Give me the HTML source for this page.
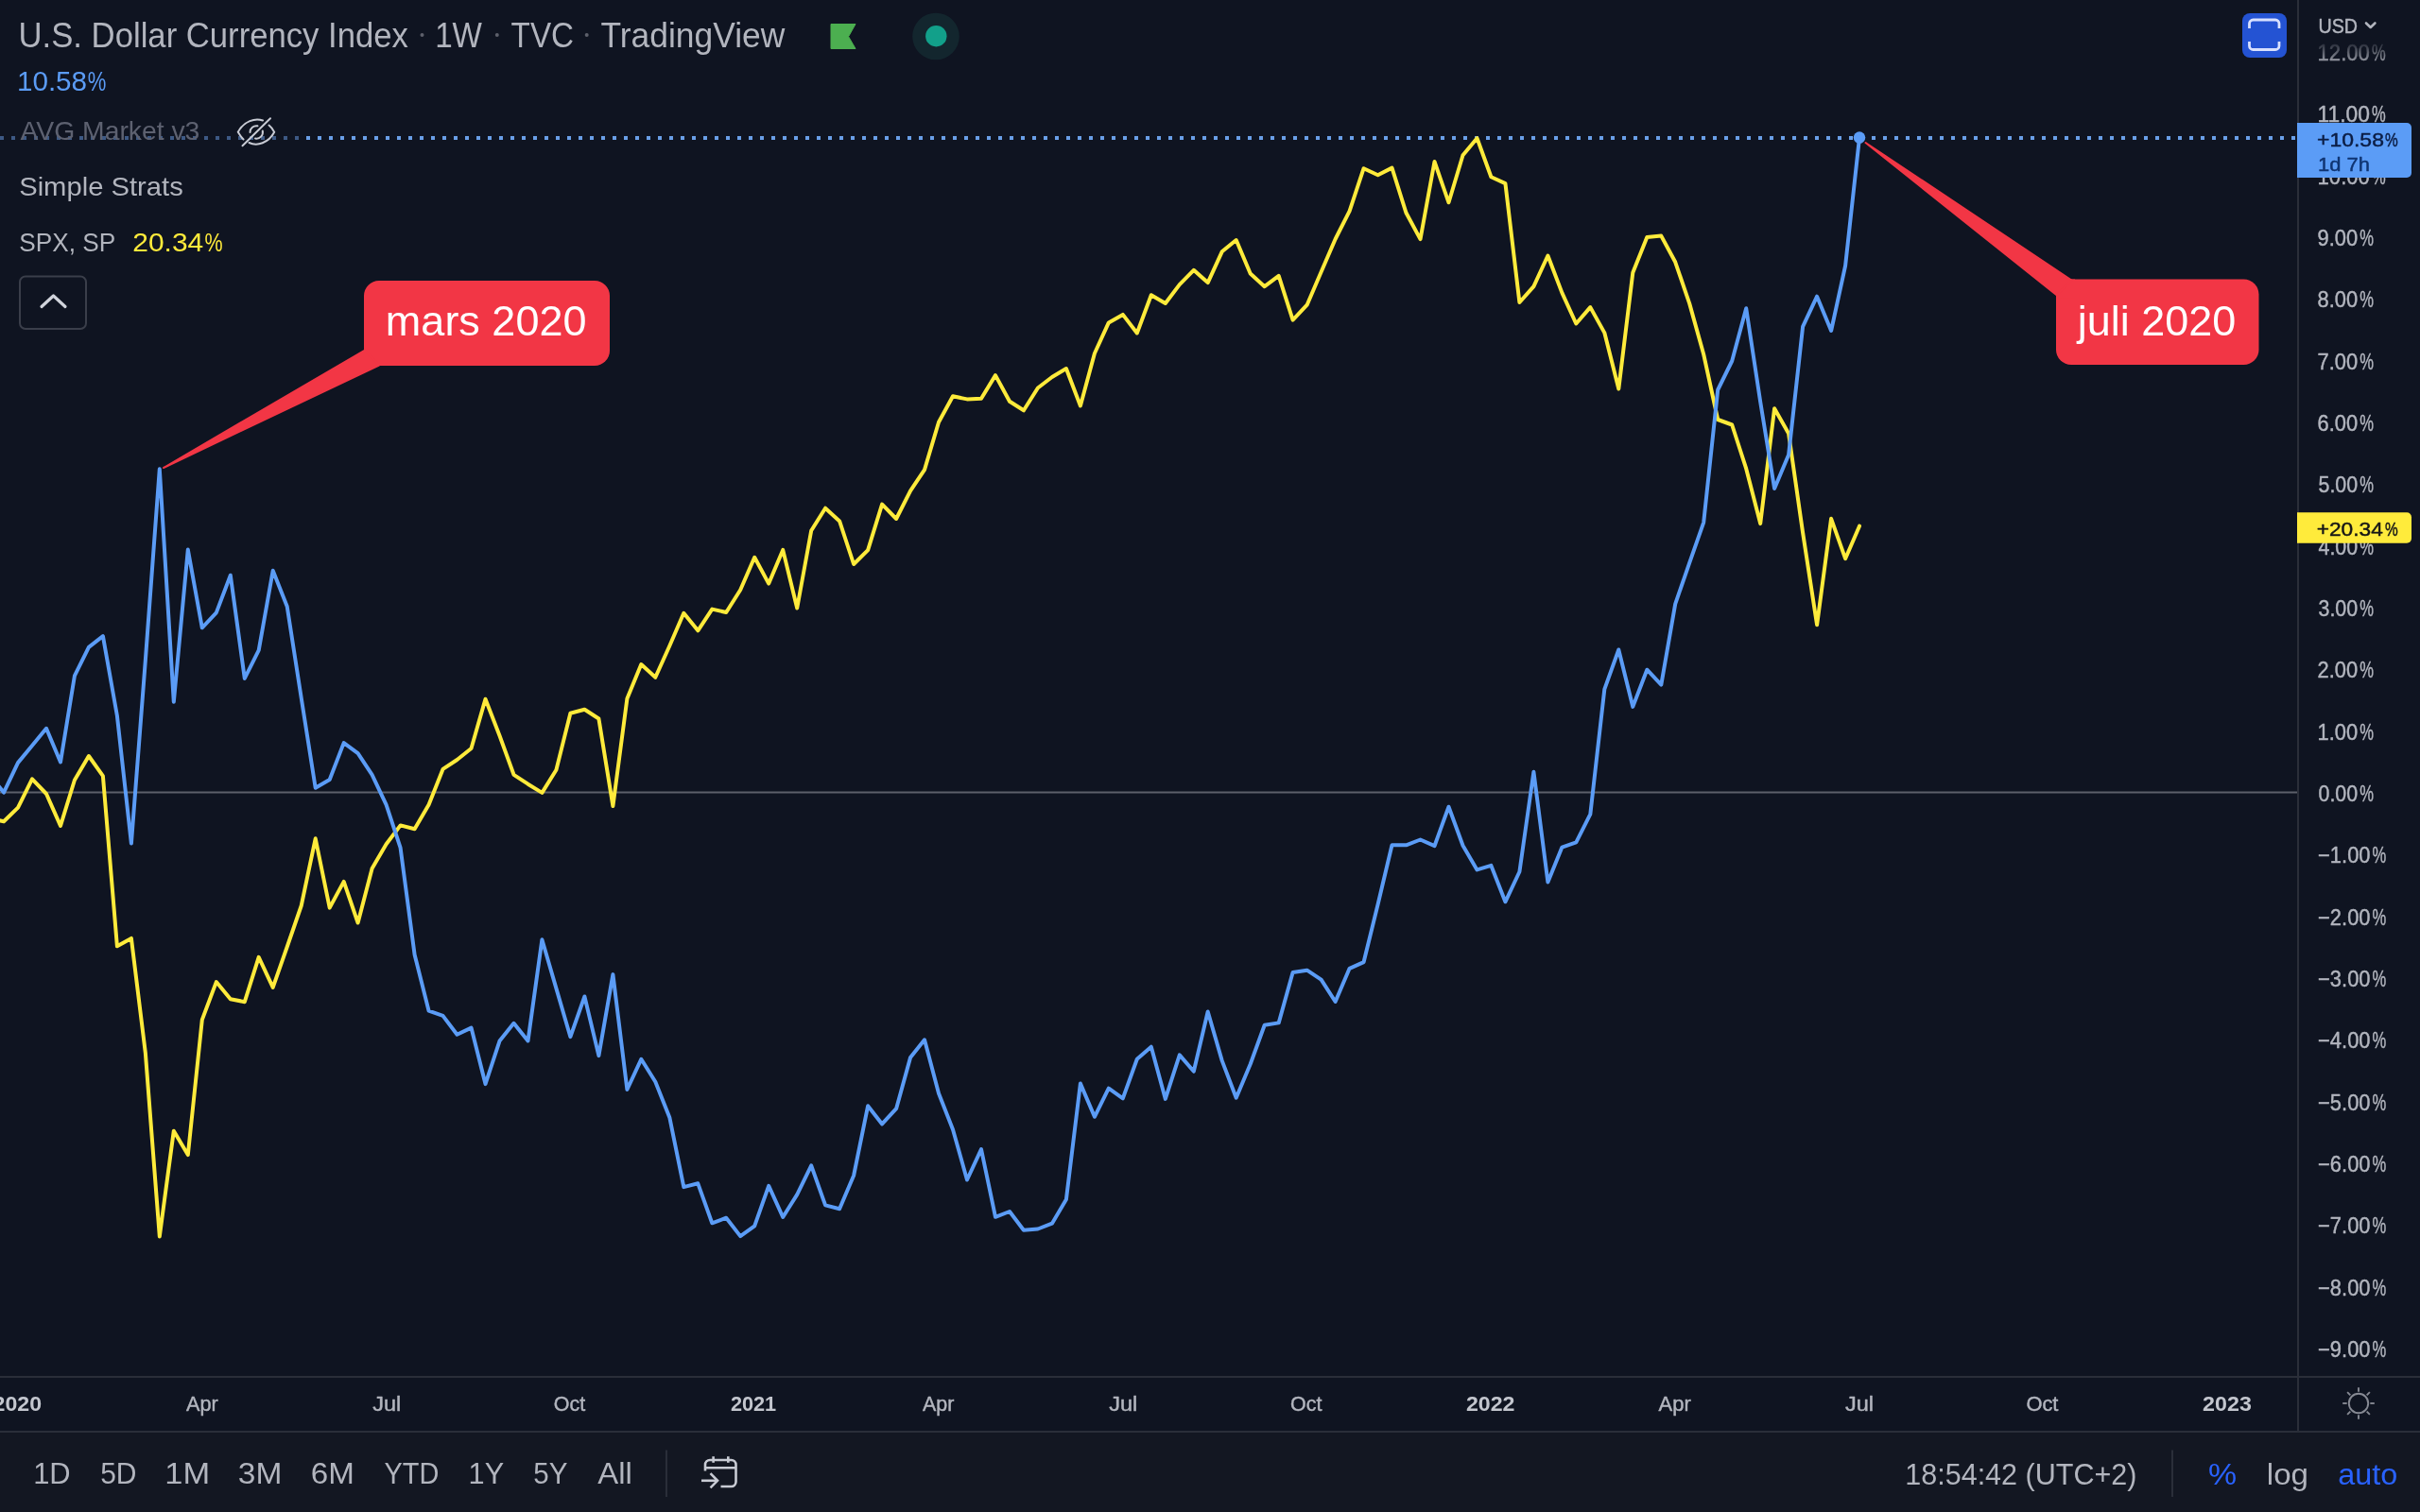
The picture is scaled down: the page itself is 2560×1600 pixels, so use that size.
<!DOCTYPE html>
<html><head><meta charset="utf-8"><title>U.S. Dollar Currency Index</title>
<style>
html,body{margin:0;padding:0;background:#0f1421;width:2560px;height:1600px;overflow:hidden}
svg{display:block;font-family:'Liberation Sans', Arial, sans-serif;will-change:transform}
text{stroke-linejoin:round}
</style></head><body>
<svg width="2560" height="1600" viewBox="0 0 2560 1600">
<rect x="0" y="0" width="2560" height="1600" fill="#0f1421"/>
<rect x="0" y="1515" width="2560" height="85" fill="#131722"/>
<rect x="0" y="1456" width="2560" height="2" fill="#2a2e39"/>
<rect x="0" y="1514" width="2560" height="2" fill="#2a2e39"/>
<rect x="2430" y="0" width="2" height="1515" fill="#2a2e39"/>
<rect x="0" y="837.5" width="2430" height="2" fill="#5d606b"/>
<line x1="0" y1="146" x2="2430" y2="146" stroke="#6a9fe8" stroke-width="4" stroke-dasharray="4 8"/>
<rect x="0" y="118" width="320" height="52" fill="#0f1421" opacity="0.5"/>
<text x="19.57" y="49.8" font-size="36" fill="#b2b5be" font-weight="normal" textLength="412.33" lengthAdjust="spacingAndGlyphs">U.S. Dollar Currency Index</text>
<text x="460.15" y="49.8" font-size="36" fill="#b2b5be" font-weight="normal" textLength="49.83" lengthAdjust="spacingAndGlyphs">1W</text>
<text x="540.60" y="49.8" font-size="36" fill="#b2b5be" font-weight="normal" textLength="66.42" lengthAdjust="spacingAndGlyphs">TVC</text>
<text x="635.50" y="49.8" font-size="36" fill="#b2b5be" font-weight="normal" textLength="194.81" lengthAdjust="spacingAndGlyphs">TradingView</text>
<text y="95.9" font-size="29" fill="#5b9cf6" font-weight="normal"><tspan x="17.96" textLength="74.11" lengthAdjust="spacingAndGlyphs">10.58</tspan><tspan x="92.77" textLength="19.63" lengthAdjust="spacingAndGlyphs">%</tspan></text>
<text x="21.50" y="148.4" font-size="28" fill="#5d6170" font-weight="normal" textLength="189.88" lengthAdjust="spacingAndGlyphs">AVG Market v3</text>
<text x="20.16" y="206.7" font-size="28" fill="#b2b5be" font-weight="normal" textLength="173.59" lengthAdjust="spacingAndGlyphs">Simple Strats</text>
<text x="20.26" y="266" font-size="28" fill="#b2b5be" font-weight="normal" textLength="101.87" lengthAdjust="spacingAndGlyphs">SPX, SP</text>
<text y="266" font-size="28" fill="#ffeb3b" font-weight="normal"><tspan x="140.33" textLength="74.92" lengthAdjust="spacingAndGlyphs">20.34</tspan><tspan x="216.39" textLength="19.09" lengthAdjust="spacingAndGlyphs">%</tspan></text>
<text y="63.9" font-size="23.5" fill="#b2b5be" font-weight="normal" stroke="#b2b5be" stroke-width="0.45" opacity="0.8"><tspan x="2451.56" textLength="55.39" lengthAdjust="spacingAndGlyphs">12.00</tspan><tspan x="2509.00" textLength="14.73" lengthAdjust="spacingAndGlyphs">%</tspan></text>
<text y="129.3" font-size="23.5" fill="#b2b5be" font-weight="normal" stroke="#b2b5be" stroke-width="0.45"><tspan x="2451.53" textLength="55.42" lengthAdjust="spacingAndGlyphs">11.00</tspan><tspan x="2509.00" textLength="14.73" lengthAdjust="spacingAndGlyphs">%</tspan></text>
<text y="259.9" font-size="23.5" fill="#b2b5be" font-weight="normal" stroke="#b2b5be" stroke-width="0.45"><tspan x="2451.57" textLength="42.58" lengthAdjust="spacingAndGlyphs">9.00</tspan><tspan x="2496.20" textLength="14.73" lengthAdjust="spacingAndGlyphs">%</tspan></text>
<text y="325.3" font-size="23.5" fill="#b2b5be" font-weight="normal" stroke="#b2b5be" stroke-width="0.45"><tspan x="2451.57" textLength="42.58" lengthAdjust="spacingAndGlyphs">8.00</tspan><tspan x="2496.20" textLength="14.73" lengthAdjust="spacingAndGlyphs">%</tspan></text>
<text y="390.6" font-size="23.5" fill="#b2b5be" font-weight="normal" stroke="#b2b5be" stroke-width="0.45"><tspan x="2451.57" textLength="42.58" lengthAdjust="spacingAndGlyphs">7.00</tspan><tspan x="2496.20" textLength="14.73" lengthAdjust="spacingAndGlyphs">%</tspan></text>
<text y="455.9" font-size="23.5" fill="#b2b5be" font-weight="normal" stroke="#b2b5be" stroke-width="0.45"><tspan x="2451.57" textLength="42.58" lengthAdjust="spacingAndGlyphs">6.00</tspan><tspan x="2496.20" textLength="14.73" lengthAdjust="spacingAndGlyphs">%</tspan></text>
<text y="521.2" font-size="23.5" fill="#b2b5be" font-weight="normal" stroke="#b2b5be" stroke-width="0.45"><tspan x="2452.50" textLength="41.64" lengthAdjust="spacingAndGlyphs">5.00</tspan><tspan x="2496.20" textLength="14.73" lengthAdjust="spacingAndGlyphs">%</tspan></text>
<text y="586.6" font-size="23.5" fill="#b2b5be" font-weight="normal" stroke="#b2b5be" stroke-width="0.45"><tspan x="2452.50" textLength="41.64" lengthAdjust="spacingAndGlyphs">4.00</tspan><tspan x="2496.20" textLength="14.73" lengthAdjust="spacingAndGlyphs">%</tspan></text>
<text y="651.9" font-size="23.5" fill="#b2b5be" font-weight="normal" stroke="#b2b5be" stroke-width="0.45"><tspan x="2452.50" textLength="41.64" lengthAdjust="spacingAndGlyphs">3.00</tspan><tspan x="2496.20" textLength="14.73" lengthAdjust="spacingAndGlyphs">%</tspan></text>
<text y="717.2" font-size="23.5" fill="#b2b5be" font-weight="normal" stroke="#b2b5be" stroke-width="0.45"><tspan x="2451.57" textLength="42.58" lengthAdjust="spacingAndGlyphs">2.00</tspan><tspan x="2496.20" textLength="14.73" lengthAdjust="spacingAndGlyphs">%</tspan></text>
<text y="782.6" font-size="23.5" fill="#b2b5be" font-weight="normal" stroke="#b2b5be" stroke-width="0.45"><tspan x="2451.57" textLength="42.58" lengthAdjust="spacingAndGlyphs">1.00</tspan><tspan x="2496.20" textLength="14.73" lengthAdjust="spacingAndGlyphs">%</tspan></text>
<text y="847.9" font-size="23.5" fill="#b2b5be" font-weight="normal" stroke="#b2b5be" stroke-width="0.45"><tspan x="2452.50" textLength="41.64" lengthAdjust="spacingAndGlyphs">0.00</tspan><tspan x="2496.20" textLength="14.73" lengthAdjust="spacingAndGlyphs">%</tspan></text>
<text y="913.2" font-size="23.5" fill="#b2b5be" font-weight="normal" stroke="#b2b5be" stroke-width="0.45"><tspan x="2452.07" textLength="55.48" lengthAdjust="spacingAndGlyphs">−1.00</tspan><tspan x="2509.60" textLength="14.73" lengthAdjust="spacingAndGlyphs">%</tspan></text>
<text y="978.6" font-size="23.5" fill="#b2b5be" font-weight="normal" stroke="#b2b5be" stroke-width="0.45"><tspan x="2452.07" textLength="55.48" lengthAdjust="spacingAndGlyphs">−2.00</tspan><tspan x="2509.60" textLength="14.73" lengthAdjust="spacingAndGlyphs">%</tspan></text>
<text y="1043.9" font-size="23.5" fill="#b2b5be" font-weight="normal" stroke="#b2b5be" stroke-width="0.45"><tspan x="2452.07" textLength="55.48" lengthAdjust="spacingAndGlyphs">−3.00</tspan><tspan x="2509.60" textLength="14.73" lengthAdjust="spacingAndGlyphs">%</tspan></text>
<text y="1109.2" font-size="23.5" fill="#b2b5be" font-weight="normal" stroke="#b2b5be" stroke-width="0.45"><tspan x="2452.07" textLength="55.48" lengthAdjust="spacingAndGlyphs">−4.00</tspan><tspan x="2509.60" textLength="14.73" lengthAdjust="spacingAndGlyphs">%</tspan></text>
<text y="1174.6" font-size="23.5" fill="#b2b5be" font-weight="normal" stroke="#b2b5be" stroke-width="0.45"><tspan x="2452.07" textLength="55.48" lengthAdjust="spacingAndGlyphs">−5.00</tspan><tspan x="2509.60" textLength="14.73" lengthAdjust="spacingAndGlyphs">%</tspan></text>
<text y="1239.9" font-size="23.5" fill="#b2b5be" font-weight="normal" stroke="#b2b5be" stroke-width="0.45"><tspan x="2452.07" textLength="55.48" lengthAdjust="spacingAndGlyphs">−6.00</tspan><tspan x="2509.60" textLength="14.73" lengthAdjust="spacingAndGlyphs">%</tspan></text>
<text y="1305.2" font-size="23.5" fill="#b2b5be" font-weight="normal" stroke="#b2b5be" stroke-width="0.45"><tspan x="2452.07" textLength="55.48" lengthAdjust="spacingAndGlyphs">−7.00</tspan><tspan x="2509.60" textLength="14.73" lengthAdjust="spacingAndGlyphs">%</tspan></text>
<text y="1370.5" font-size="23.5" fill="#b2b5be" font-weight="normal" stroke="#b2b5be" stroke-width="0.45"><tspan x="2452.07" textLength="55.48" lengthAdjust="spacingAndGlyphs">−8.00</tspan><tspan x="2509.60" textLength="14.73" lengthAdjust="spacingAndGlyphs">%</tspan></text>
<text y="1435.9" font-size="23.5" fill="#b2b5be" font-weight="normal" stroke="#b2b5be" stroke-width="0.45"><tspan x="2452.07" textLength="55.48" lengthAdjust="spacingAndGlyphs">−9.00</tspan><tspan x="2509.60" textLength="14.73" lengthAdjust="spacingAndGlyphs">%</tspan></text>
<text y="194.6" font-size="23.5" fill="#b2b5be" font-weight="normal" stroke="#b2b5be" stroke-width="0.45"><tspan x="2451.56" textLength="55.39" lengthAdjust="spacingAndGlyphs">10.00</tspan><tspan x="2509.00" textLength="14.73" lengthAdjust="spacingAndGlyphs">%</tspan></text>
<text x="2452.49" y="34.7" font-size="21.5" fill="#b2b5be" font-weight="normal" stroke="#b2b5be" stroke-width="0.45" textLength="41.50" lengthAdjust="spacingAndGlyphs">USD</text>
<text x="-7.50" y="1493.1" font-size="22.5" fill="#c3c6ce" font-weight="bold" textLength="51.53" lengthAdjust="spacingAndGlyphs">2020</text>
<text x="197.10" y="1493.1" font-size="22.5" fill="#b2b5be" font-weight="normal" stroke="#b2b5be" stroke-width="0.45" textLength="33.71" lengthAdjust="spacingAndGlyphs">Apr</text>
<text x="394.20" y="1493.1" font-size="22.5" fill="#b2b5be" font-weight="normal" stroke="#b2b5be" stroke-width="0.45" textLength="30.04" lengthAdjust="spacingAndGlyphs">Jul</text>
<text x="585.85" y="1493.1" font-size="22.5" fill="#b2b5be" font-weight="normal" stroke="#b2b5be" stroke-width="0.45" textLength="33.34" lengthAdjust="spacingAndGlyphs">Oct</text>
<text x="772.90" y="1493.1" font-size="22.5" fill="#c3c6ce" font-weight="bold" textLength="48.30" lengthAdjust="spacingAndGlyphs">2021</text>
<text x="976.00" y="1493.1" font-size="22.5" fill="#b2b5be" font-weight="normal" stroke="#b2b5be" stroke-width="0.45" textLength="33.32" lengthAdjust="spacingAndGlyphs">Apr</text>
<text x="1173.30" y="1493.1" font-size="22.5" fill="#b2b5be" font-weight="normal" stroke="#b2b5be" stroke-width="0.45" textLength="30.04" lengthAdjust="spacingAndGlyphs">Jul</text>
<text x="1365.05" y="1493.1" font-size="22.5" fill="#b2b5be" font-weight="normal" stroke="#b2b5be" stroke-width="0.45" textLength="33.34" lengthAdjust="spacingAndGlyphs">Oct</text>
<text x="1550.90" y="1493.1" font-size="22.5" fill="#c3c6ce" font-weight="bold" textLength="51.53" lengthAdjust="spacingAndGlyphs">2022</text>
<text x="1754.50" y="1493.1" font-size="22.5" fill="#b2b5be" font-weight="normal" stroke="#b2b5be" stroke-width="0.45" textLength="34.20" lengthAdjust="spacingAndGlyphs">Apr</text>
<text x="1952.00" y="1493.1" font-size="22.5" fill="#b2b5be" font-weight="normal" stroke="#b2b5be" stroke-width="0.45" textLength="30.04" lengthAdjust="spacingAndGlyphs">Jul</text>
<text x="2143.43" y="1493.1" font-size="22.5" fill="#b2b5be" font-weight="normal" stroke="#b2b5be" stroke-width="0.45" textLength="34.04" lengthAdjust="spacingAndGlyphs">Oct</text>
<text x="2330.10" y="1493.1" font-size="22.5" fill="#c3c6ce" font-weight="bold" textLength="51.73" lengthAdjust="spacingAndGlyphs">2023</text>
<text x="35.21" y="1570.3" font-size="31" fill="#b2b5be" font-weight="normal" textLength="39.47" lengthAdjust="spacingAndGlyphs">1D</text>
<text x="106.13" y="1570.3" font-size="31" fill="#b2b5be" font-weight="normal" textLength="38.41" lengthAdjust="spacingAndGlyphs">5D</text>
<text x="174.38" y="1570.3" font-size="31" fill="#b2b5be" font-weight="normal" textLength="47.85" lengthAdjust="spacingAndGlyphs">1M</text>
<text x="251.82" y="1570.3" font-size="31" fill="#b2b5be" font-weight="normal" textLength="46.55" lengthAdjust="spacingAndGlyphs">3M</text>
<text x="328.83" y="1570.3" font-size="31" fill="#b2b5be" font-weight="normal" textLength="46.12" lengthAdjust="spacingAndGlyphs">6M</text>
<text x="406.50" y="1570.3" font-size="31" fill="#b2b5be" font-weight="normal" textLength="57.79" lengthAdjust="spacingAndGlyphs">YTD</text>
<text x="495.62" y="1570.3" font-size="31" fill="#b2b5be" font-weight="normal" textLength="37.55" lengthAdjust="spacingAndGlyphs">1Y</text>
<text x="564.35" y="1570.3" font-size="31" fill="#b2b5be" font-weight="normal" textLength="36.20" lengthAdjust="spacingAndGlyphs">5Y</text>
<text x="632.20" y="1570.3" font-size="31" fill="#b2b5be" font-weight="normal" textLength="36.61" lengthAdjust="spacingAndGlyphs">All</text>
<text x="2015.23" y="1570.6" font-size="31" fill="#b2b5be" font-weight="normal" textLength="245.27" lengthAdjust="spacingAndGlyphs">18:54:42 (UTC+2)</text>
<text x="2335.91" y="1570.6" font-size="31" fill="#2962ff" font-weight="normal" textLength="30.11" lengthAdjust="spacingAndGlyphs">%</text>
<text x="2397.87" y="1570.6" font-size="31" fill="#b2b5be" font-weight="normal" textLength="44.16" lengthAdjust="spacingAndGlyphs">log</text>
<text x="2473.16" y="1570.6" font-size="31" fill="#2962ff" font-weight="normal" textLength="63.04" lengthAdjust="spacingAndGlyphs">auto</text>
<defs><linearGradient id="fd" x1="0" y1="0" x2="0" y2="1"><stop offset="0" stop-color="#0f1421" stop-opacity="1"/><stop offset="1" stop-color="#0f1421" stop-opacity="0"/></linearGradient></defs>
<rect x="2432" y="42" width="128" height="22" fill="url(#fd)"/>
<polyline points="-11.0,866.0 4.0,869.2 19.0,854.6 34.0,824.4 49.0,840.0 64.0,873.9 78.9,825.5 93.9,800.0 108.9,821.1 123.9,1001.3 138.9,992.9 153.9,1114.8 168.8,1308.4 183.8,1196.7 198.8,1222.1 213.8,1079.1 228.8,1039.1 243.8,1057.3 258.8,1060.2 273.7,1012.9 288.7,1044.9 303.7,1002.0 318.7,958.5 333.7,887.3 348.7,960.6 363.7,932.9 378.6,976.5 393.6,919.0 408.6,893.2 423.6,873.4 438.6,877.3 453.6,851.6 468.5,813.9 483.5,804.0 498.5,792.0 513.5,739.7 528.5,778.5 543.5,819.8 558.5,829.7 573.4,838.9 588.4,814.7 603.4,754.8 618.4,750.8 633.4,760.5 648.4,853.1 663.4,739.3 678.3,703.1 693.3,716.8 708.3,683.5 723.3,648.8 738.3,667.3 753.3,644.6 768.2,648.0 783.2,624.2 798.2,589.8 813.2,617.6 828.2,581.9 843.2,643.5 858.2,561.5 873.1,537.7 888.1,551.4 903.1,597.0 918.1,582.2 933.1,533.6 948.1,549.0 963.1,519.3 978.0,497.1 993.0,446.7 1008.0,419.3 1023.0,422.4 1038.0,421.7 1053.0,397.1 1068.0,424.8 1082.9,434.3 1097.9,410.5 1112.9,399.0 1127.9,390.0 1142.9,429.5 1157.9,374.0 1172.8,341.4 1187.8,332.9 1202.8,352.5 1217.8,312.2 1232.8,321.0 1247.8,301.1 1262.8,285.8 1277.7,299.1 1292.7,266.3 1307.7,254.0 1322.7,289.5 1337.7,303.2 1352.7,291.9 1367.6,338.6 1382.6,322.7 1397.6,287.8 1412.6,253.0 1427.6,223.3 1442.6,178.2 1457.6,185.3 1472.5,177.6 1487.5,225.3 1502.5,253.1 1517.5,171.0 1532.5,214.3 1547.5,164.2 1562.5,146.2 1577.4,187.3 1592.4,194.1 1607.4,320.0 1622.4,303.1 1637.4,270.5 1652.4,309.9 1667.3,342.5 1682.3,325.1 1697.3,352.1 1712.3,411.5 1727.3,288.5 1742.3,251.0 1757.3,249.6 1772.2,277.3 1787.2,321.1 1802.2,375.0 1817.2,444.0 1832.2,449.5 1847.2,495.9 1862.2,554.1 1877.1,432.3 1892.1,458.8 1907.1,563.6 1922.1,661.3 1937.1,548.8 1952.1,591.2 1967.0,556.7" fill="none" stroke="#ffeb3b" stroke-width="4" stroke-linejoin="round" stroke-linecap="round"/>
<polyline points="-11.0,820.0 4.0,838.6 19.0,807.1 34.0,789.0 49.0,770.8 64.0,806.5 78.9,715.2 93.9,684.8 108.9,673.2 123.9,757.5 138.9,892.5 153.9,698.0 168.8,496.3 183.8,742.7 198.8,581.6 213.8,664.3 228.8,648.4 243.8,608.7 258.8,717.9 273.7,688.1 288.7,603.8 303.7,641.8 318.7,738.5 333.7,833.7 348.7,825.0 363.7,786.1 378.6,797.2 393.6,819.8 408.6,851.6 423.6,897.2 438.6,1010.2 453.6,1069.7 468.5,1074.9 483.5,1094.7 498.5,1087.6 513.5,1147.1 528.5,1101.5 543.5,1082.8 558.5,1101.5 573.4,994.3 588.4,1045.9 603.4,1097.2 618.4,1054.5 633.4,1117.1 648.4,1031.1 663.4,1153.0 678.3,1120.8 693.3,1144.7 708.3,1182.4 723.3,1256.1 738.3,1252.3 753.3,1294.3 768.2,1288.7 783.2,1308.1 798.2,1297.3 813.2,1254.8 828.2,1288.0 843.2,1264.1 858.2,1233.4 873.1,1275.4 888.1,1279.2 903.1,1244.0 918.1,1170.3 933.1,1189.4 948.1,1173.2 963.1,1118.9 978.0,1100.3 993.0,1157.0 1008.0,1195.2 1023.0,1248.5 1038.0,1216.1 1053.0,1287.8 1068.0,1282.0 1082.9,1301.7 1097.9,1300.5 1112.9,1294.7 1127.9,1269.3 1142.9,1146.6 1157.9,1181.8 1172.8,1151.7 1187.8,1162.4 1202.8,1120.7 1217.8,1107.7 1232.8,1162.9 1247.8,1116.4 1262.8,1133.8 1277.7,1070.5 1292.7,1122.4 1307.7,1161.7 1322.7,1126.0 1337.7,1084.8 1352.7,1082.4 1367.6,1029.0 1382.6,1026.7 1397.6,1036.7 1412.6,1060.0 1427.6,1024.8 1442.6,1018.1 1457.6,956.9 1472.5,894.3 1487.5,894.3 1502.5,888.5 1517.5,895.2 1532.5,853.7 1547.5,894.7 1562.5,920.4 1577.4,915.9 1592.4,954.3 1607.4,922.5 1622.4,816.7 1637.4,933.6 1652.4,896.6 1667.3,891.3 1682.3,861.7 1697.3,729.4 1712.3,687.5 1727.3,747.9 1742.3,708.7 1757.3,724.6 1772.2,639.1 1787.2,595.6 1802.2,552.8 1817.2,412.5 1832.2,382.0 1847.2,326.3 1862.2,425.2 1877.1,517.0 1892.1,481.3 1907.1,345.7 1922.1,313.7 1937.1,350.0 1952.1,281.3 1967.0,145.7" fill="none" stroke="#5b9cf6" stroke-width="4" stroke-linejoin="round" stroke-linecap="round"/>
<circle cx="1967" cy="145.6" r="6.3" fill="#5b9cf6"/>
<rect x="385" y="297" width="260" height="90" rx="16" fill="#f23645"/>
<rect x="385" y="369" width="20" height="18" fill="#f23645"/>
<polygon points="386,370.6 173,495 401,386.5" fill="#f23645" stroke="#f23645" stroke-width="2" stroke-linejoin="round"/>
<rect x="2175" y="295.5" width="214.5" height="90.5" rx="16" fill="#f23645"/>
<rect x="2175" y="295.5" width="20" height="20" fill="#f23645"/>
<polygon points="1973.5,151 2191.4,296.5 2175.9,312.5" fill="#f23645" stroke="#f23645" stroke-width="2" stroke-linejoin="round"/>
<text x="407.88" y="355.3" font-size="44.5" fill="#ffffff" font-weight="normal" textLength="212.58" lengthAdjust="spacingAndGlyphs">mars 2020</text>
<text x="2197.72" y="354.5" font-size="44.5" fill="#ffffff" font-weight="normal" textLength="167.63" lengthAdjust="spacingAndGlyphs">juli 2020</text>
<path d="M2430,130 H2546 a5,5 0 0 1 5,5 V183 a5,5 0 0 1 -5,5 H2430 Z" fill="#5b9cf6"/>
<path d="M2430,542.3 H2546 a5,5 0 0 1 5,5 V569.7 a5,5 0 0 1 -5,5 H2430 Z" fill="#ffeb3b"/>
<text y="154.7" font-size="21" fill="#0b1d44" font-weight="normal" stroke="#0b1d44" stroke-width="0.45"><tspan x="2451.01" textLength="70.92" lengthAdjust="spacingAndGlyphs">+10.58</tspan><tspan x="2523.07" textLength="13.72" lengthAdjust="spacingAndGlyphs">%</tspan></text>
<text x="2451.95" y="180.7" font-size="21" fill="#0f3472" font-weight="normal" stroke="#0f3472" stroke-width="0.45" textLength="54.96" lengthAdjust="spacingAndGlyphs">1d 7h</text>
<text y="567.1" font-size="21" fill="#161616" font-weight="normal" stroke="#161616" stroke-width="0.45"><tspan x="2450.72" textLength="70.11" lengthAdjust="spacingAndGlyphs">+20.34</tspan><tspan x="2523.07" textLength="13.72" lengthAdjust="spacingAndGlyphs">%</tspan></text>
<polyline points="2503,24.5 2507.7,29 2512.4,24.5" fill="none" stroke="#b2b5be" stroke-width="2.6" stroke-linecap="round" stroke-linejoin="round"/>
<rect x="2372" y="14" width="47" height="47" rx="8" fill="#2453d3"/>
<path d="M2379.5,30 V25 a4,4 0 0 1 4,-4 H2407 a4,4 0 0 1 4,4 V30 M2379.5,44 V48.5 a4,4 0 0 0 4,4 H2407 a4,4 0 0 0 4,-4 V44" fill="none" stroke="#d8e0ff" stroke-width="2.8"/>
<circle cx="446.5" cy="37" r="2" fill="#5d606b"/>
<circle cx="525.8" cy="37" r="2" fill="#5d606b"/>
<circle cx="620.7" cy="37" r="2" fill="#5d606b"/>
<path d="M879,25.5 H905 L897.6,38.7 L905,51.5 H879 Z" fill="#4caf50" stroke="#4caf50" stroke-width="1" stroke-linejoin="round"/>
<circle cx="990" cy="38.5" r="24.8" fill="#13262e"/>
<circle cx="990.3" cy="38.2" r="11.2" fill="#12a08a"/>
<g fill="none" stroke="#c8cbd4" stroke-width="2" stroke-linecap="round"><path d="M278,127.5 C270,124.5 258,128 251.8,139.8 C254,143.5 255.5,145.5 257.5,147.5"/><path d="M284.5,132.5 C287,134.5 289,137 290.2,139.8 C284,151.5 272,155 263.5,151"/><path d="M264.5,140 A6.7,6.7 0 0 1 272.5,133.3"/><path d="M277.8,138.5 A6.7,6.7 0 0 1 270,146.5"/><line x1="286" y1="125.3" x2="256.5" y2="154.2"/></g>
<rect x="21" y="292.5" width="70" height="55.5" rx="6" fill="none" stroke="#3a3e4a" stroke-width="2"/>
<polyline points="44,324.5 56.5,313 69,324.5" fill="none" stroke="#d1d4dc" stroke-width="3.2" stroke-linecap="round" stroke-linejoin="round"/>
<circle cx="2495" cy="1485" r="10.2" fill="none" stroke="#868993" stroke-width="1.9"/><line x1="2507.3" y1="1485.0" x2="2511.8" y2="1485.0" stroke="#868993" stroke-width="1.9"/><line x1="2503.7" y1="1493.7" x2="2506.9" y2="1496.9" stroke="#868993" stroke-width="1.9"/><line x1="2495.0" y1="1497.3" x2="2495.0" y2="1501.8" stroke="#868993" stroke-width="1.9"/><line x1="2486.3" y1="1493.7" x2="2483.1" y2="1496.9" stroke="#868993" stroke-width="1.9"/><line x1="2482.7" y1="1485.0" x2="2478.2" y2="1485.0" stroke="#868993" stroke-width="1.9"/><line x1="2486.3" y1="1476.3" x2="2483.1" y2="1473.1" stroke="#868993" stroke-width="1.9"/><line x1="2495.0" y1="1472.7" x2="2495.0" y2="1468.2" stroke="#868993" stroke-width="1.9"/><line x1="2503.7" y1="1476.3" x2="2506.9" y2="1473.1" stroke="#868993" stroke-width="1.9"/>
<rect x="704" y="1534.5" width="2" height="49.5" fill="#2a2e39"/>
<g fill="none" stroke="#c8cbd4" stroke-width="2.6" stroke-linecap="butt"><path d="M746,1556.5 V1550 a5,5 0 0 1 5,-5 H773.5 a5,5 0 0 1 5,5 V1568 a5,5 0 0 1 -5,5 H762.5"/><line x1="746" y1="1553.3" x2="778.5" y2="1553.3"/><line x1="754.6" y1="1541.2" x2="754.6" y2="1547.8"/><line x1="770.3" y1="1541.2" x2="770.3" y2="1547.8"/><line x1="742" y1="1566.8" x2="759" y2="1566.8"/><polyline points="751.5,1559.2 759,1566.8 751.5,1574.3"/></g>
<rect x="2297" y="1534.5" width="2" height="49.5" fill="#2a2e39"/>
</svg>
</body></html>
